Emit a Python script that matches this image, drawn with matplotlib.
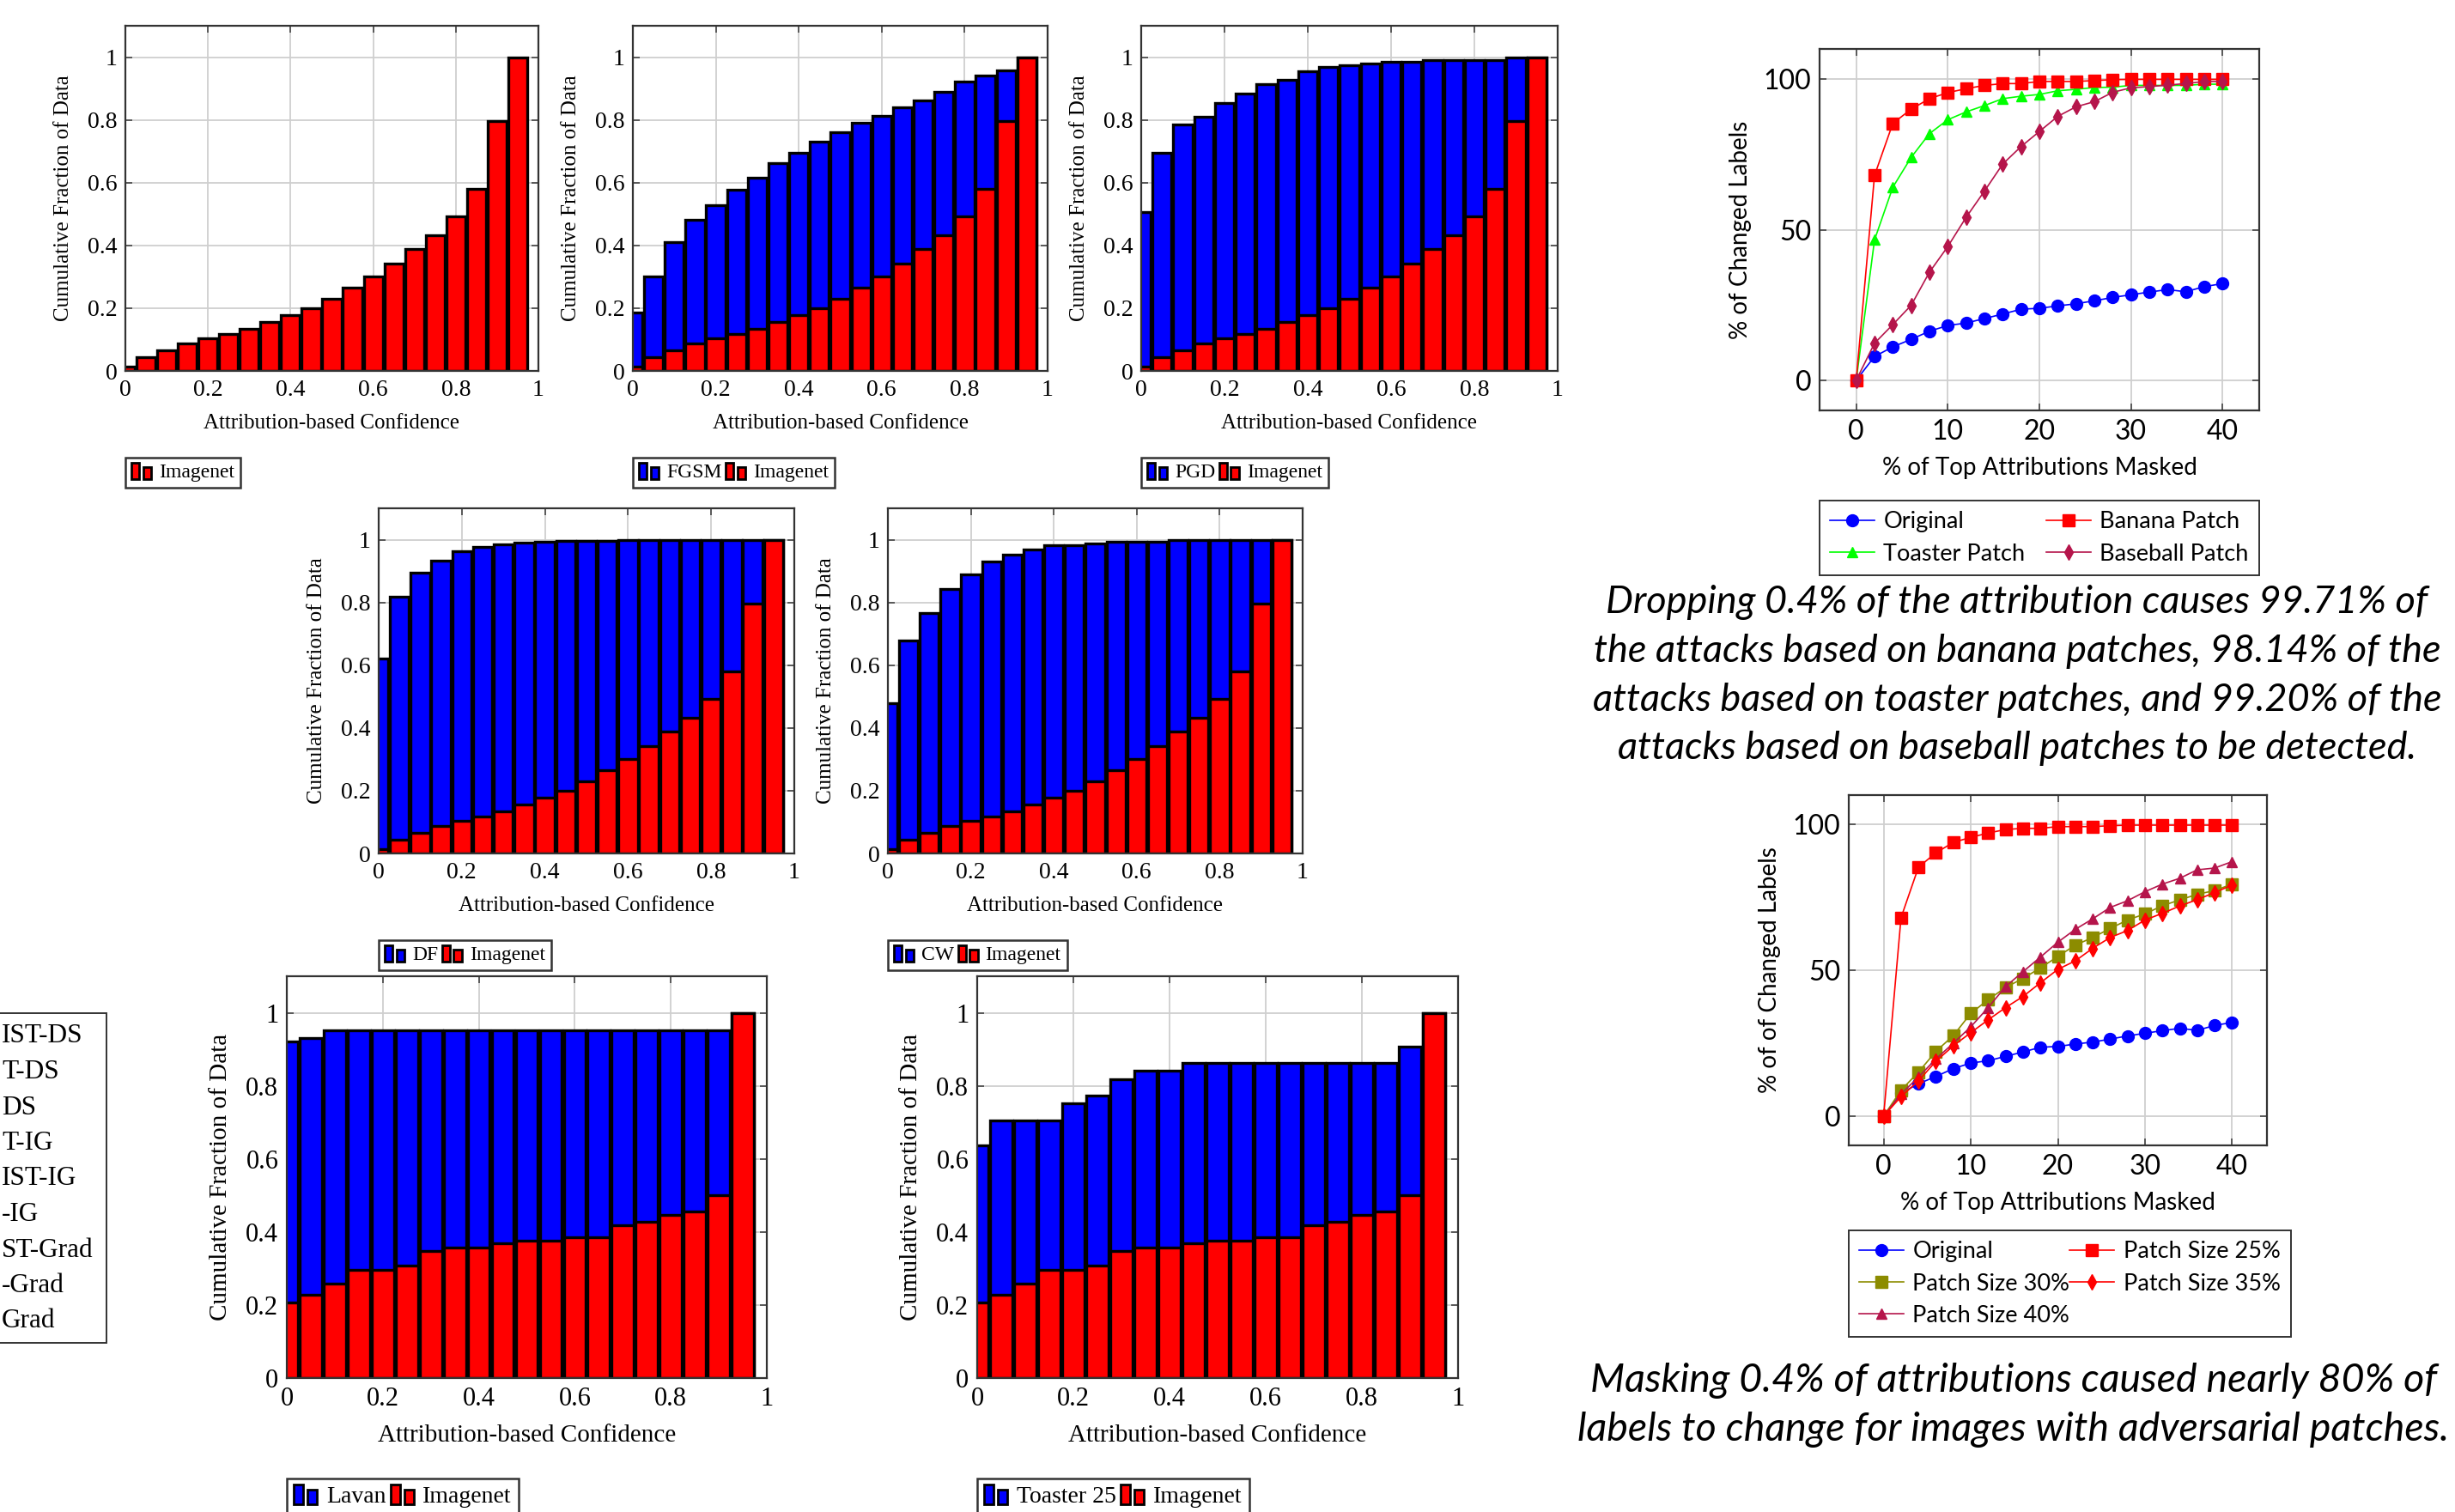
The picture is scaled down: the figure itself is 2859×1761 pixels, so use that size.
import matplotlib
matplotlib.use("Agg")
import matplotlib.pyplot as plt
from matplotlib.patches import Rectangle
from matplotlib.legend_handler import HandlerBase

W, H = 2859, 1761
BLUE = "#0000FF"
RED = "#FF0000"
GREEN = "#00FF00"
CRIMSON = "#B5154B"
OLIVE = "#8C8C00"
SERIF = ["Liberation Serif", "DejaVu Serif"]
SANS = ["Lato", "DejaVu Sans"]

# ---- cumulative fraction histograms (bar at each ABC bin) ----
abc_bins = [0.0, 0.05, 0.1, 0.15, 0.2, 0.25, 0.3, 0.35, 0.4, 0.45,
            0.5, 0.55, 0.6, 0.65, 0.7, 0.75, 0.8, 0.85, 0.9, 0.95]
imagenet = [0.015, 0.045, 0.066, 0.088, 0.104, 0.118, 0.133, 0.155, 0.177, 0.201,
            0.230, 0.266, 0.301, 0.343, 0.389, 0.432, 0.493, 0.581, 0.795, 1.0]
fgsm = [0.185, 0.300, 0.410, 0.482, 0.528, 0.578, 0.617, 0.663, 0.696, 0.730,
        0.761, 0.790, 0.813, 0.841, 0.862, 0.890, 0.921, 0.942, 0.958, 1.0]
pgd = [0.506, 0.695, 0.785, 0.809, 0.853, 0.884, 0.914, 0.928, 0.955, 0.969,
       0.974, 0.979, 0.984, 0.984, 0.990, 0.990, 0.990, 0.990, 1.0, 1.0]
deepfool = [0.620, 0.818, 0.894, 0.934, 0.963, 0.976, 0.985, 0.990, 0.993, 0.995,
            0.995, 0.996, 0.999, 1.0, 1.0, 1.0, 1.0, 1.0, 1.0, 1.0]
cw = [0.479, 0.679, 0.766, 0.842, 0.888, 0.930, 0.953, 0.968, 0.983, 0.983,
      0.988, 0.993, 0.993, 0.993, 1.0, 1.0, 1.0, 1.0, 1.0, 1.0]
lavan = [0.922, 0.931, 0.951, 0.951, 0.951, 0.951, 0.951, 0.951, 0.951, 0.951,
         0.951, 0.951, 0.951, 0.951, 0.951, 0.951, 0.951, 0.951, 0.951, 1.0]
toaster25 = [0.638, 0.705, 0.705, 0.705, 0.751, 0.773, 0.818, 0.841, 0.841, 0.862,
             0.862, 0.862, 0.862, 0.862, 0.862, 0.862, 0.862, 0.862, 0.908, 1.0]
imagenet_patch = [0.208, 0.227, 0.259, 0.295, 0.295, 0.308, 0.348, 0.358, 0.358, 0.368,
                  0.376, 0.376, 0.385, 0.385, 0.418, 0.428, 0.447, 0.457, 0.501, 1.0]

# ---- % of changed labels vs % of top attributions masked ----
masked = [0, 2, 4, 6, 8, 10, 12, 14, 16, 18, 20, 22, 24, 26, 28, 30, 32, 34, 36, 38, 40]
original = [0, 7.9, 11.1, 13.6, 16.3, 18.2, 19.0, 20.5, 22.0, 23.6, 23.9,
            24.7, 25.4, 26.4, 27.5, 28.4, 29.3, 30.1, 29.4, 31.1, 32.1]
banana = [0, 68.0, 85.3, 90.0, 93.5, 95.5, 96.8, 97.9, 98.5, 98.5, 99.2,
          99.2, 99.2, 99.5, 99.8, 99.9, 99.9, 99.9, 99.9, 99.9, 99.9]
toaster = [0, 46.6, 64.1, 74.0, 81.9, 86.5, 89.1, 91.2, 93.5, 94.3, 94.9,
           96.1, 96.6, 97.2, 97.3, 97.9, 97.9, 97.9, 97.9, 98.3, 98.3]
baseball = [0, 12.3, 18.5, 24.9, 35.9, 44.4, 54.1, 62.8, 71.8, 77.6, 82.6,
            87.6, 90.8, 92.5, 95.6, 97.1, 97.5, 98.0, 98.5, 99.2, 99.2]
patch25 = [0, 68.0, 85.3, 90.2, 93.8, 95.5, 97.0, 98.2, 98.6, 98.6, 99.2,
           99.2, 99.2, 99.5, 99.7, 99.7, 99.7, 99.7, 99.7, 99.7, 99.7]
patch30 = [0, 8.9, 15.1, 22.2, 27.6, 35.2, 39.9, 44.1, 47.2, 50.8, 54.7,
           58.6, 61.2, 64.3, 67.2, 69.3, 72.1, 74.1, 76.0, 77.3, 79.5]
patch35 = [0, 6.7, 12.1, 18.8, 24.1, 28.6, 33.0, 37.2, 41.0, 45.7, 50.3,
           53.2, 57.5, 61.2, 63.6, 67.2, 69.5, 72.0, 74.2, 76.6, 79.2]
patch40 = [0, 7.6, 13.4, 19.6, 25.0, 30.6, 37.2, 44.4, 49.5, 54.5, 59.6,
           64.0, 67.6, 71.5, 73.8, 76.9, 79.5, 81.5, 84.4, 85.0, 87.2]

caption_top = [
    "Dropping 0.4% of the attribution causes 99.71% of",
    "the attacks based on banana patches, 98.14% of the",
    "attacks based on toaster patches, and 99.20% of the",
    "attacks based on baseball patches to be detected.",
]
caption_bottom = [
    "Masking 0.4% of attributions caused nearly 80% of",
    "labels to change for images with adversarial patches.",
]
# cut-off legend at the left border of the slide
left_legend = ["IST-DS", "T-DS", "DS", "T-IG", "IST-IG", "-IG", "ST-Grad", "-Grad", "Grad"]


fig = plt.figure(figsize=(W / 100, H / 100), dpi=100)
fig.patch.set_facecolor("white")


def px_axes(left, right, top, bottom):
    return fig.add_axes([left / W, 1 - bottom / H, (right - left) / W, (bottom - top) / H])


class BarPairHandler(HandlerBase):
    # pgfplots-like ybar legend image: two little bars
    def create_artists(self, legend, orig_handle, xdescent, ydescent, width, height, fontsize, trans):
        fc = orig_handle.get_facecolor()
        w = width * 0.36
        r1 = Rectangle((-xdescent, -ydescent - 0.1 * height), w, height * 1.15,
                       facecolor=fc, edgecolor="black", linewidth=2, transform=trans)
        r2 = Rectangle((-xdescent + w * 1.45, -ydescent - 0.1 * height), w, height * 0.85,
                       facecolor=fc, edgecolor="black", linewidth=2, transform=trans)
        return [r1, r2]


def style_frame(ax, font, tick_fs):
    ax.tick_params(direction="in", top=True, right=True, length=6, width=1.2,
                   labelsize=tick_fs, color="#444444", pad=7)
    for lab in ax.get_xticklabels() + ax.get_yticklabels():
        lab.set_family(font)
    for sp in ax.spines.values():
        sp.set_linewidth(1.6)
        sp.set_color("#333333")
    ax.grid(True, color="#cfcfcf", linewidth=1.3)
    ax.set_axisbelow(True)


def draw_cdf(rect, attack, attack_label, base, tick_fs, label_fs, legend_y):
    ax = px_axes(*rect)
    handles, labels = [], []
    if attack is not None:
        handles.append(ax.bar(abc_bins, attack, width=0.046, color=BLUE, edgecolor="black",
                              linewidth=2.4)[0])
        labels.append(attack_label)
    handles.append(ax.bar(abc_bins, base, width=0.046, color=RED, edgecolor="black",
                          linewidth=2.4)[0])
    labels.append("Imagenet")
    ax.set_xlim(0, 1)
    ax.set_ylim(0, 1.1)
    ax.set_xticks([0, 0.2, 0.4, 0.6, 0.8, 1])
    ax.set_xticklabels(["0", "0.2", "0.4", "0.6", "0.8", "1"])
    ax.set_yticks([0, 0.2, 0.4, 0.6, 0.8, 1])
    ax.set_yticklabels(["0", "0.2", "0.4", "0.6", "0.8", "1"])
    style_frame(ax, SERIF, tick_fs)
    ax.set_xlabel("Attribution-based Confidence", family=SERIF, fontsize=label_fs, labelpad=11)
    ax.set_ylabel("Cumulative Fraction of Data", family=SERIF, fontsize=label_fs, labelpad=12)
    leg = ax.legend(handles, labels, handler_map={h: BarPairHandler() for h in handles},
                    loc="upper left", bbox_to_anchor=(0, legend_y), borderaxespad=0,
                    ncol=2, fancybox=False, edgecolor="#333333", framealpha=1,
                    prop={"family": SERIF, "size": label_fs - 1},
                    handlelength=1.1, handletextpad=0.25, columnspacing=0.2,
                    borderpad=0.3)
    leg.get_frame().set_linewidth(1.8)
    return ax


# top row
draw_cdf((146, 627, 30, 432), None, None, imagenet, 20, 18, -0.25)
draw_cdf((737, 1220, 30, 432), fgsm, "FGSM", imagenet, 20, 18, -0.25)
draw_cdf((1329, 1814, 30, 432), pgd, "PGD", imagenet, 20, 18, -0.25)
# middle row
draw_cdf((441, 925, 592, 994), deepfool, "DF", imagenet, 20, 18, -0.25)
draw_cdf((1034, 1517, 592, 994), cw, "CW", imagenet, 20, 18, -0.25)
# bottom row (patch attacks)
draw_cdf((334, 893, 1137, 1605), lavan, "Lavan", imagenet_patch, 22, 21, -0.25)
draw_cdf((1138, 1698, 1137, 1605), toaster25, "Toaster 25", imagenet_patch, 22, 21, -0.25)


def draw_masking(rect, series, ylabel, legend_bbox):
    ax = px_axes(*rect)
    handles = []
    for values, color, marker, ms, label in series:
        h, = ax.plot(masked, values, color=color, marker=marker, markersize=ms,
                     linewidth=1.2, label=label)
        handles.append(h)
    ax.set_xlim(-4, 44)
    ax.set_ylim(-10, 110)
    ax.set_xticks([0, 10, 20, 30, 40])
    ax.set_yticks([0, 50, 100])
    style_frame(ax, SANS, 23)
    ax.set_xlabel("% of Top Attributions Masked", family=SANS, fontsize=20, labelpad=10)
    ax.set_ylabel(ylabel, family=SANS, fontsize=20, labelpad=10)
    leg = ax.legend(handles=handles, loc="upper left", bbox_to_anchor=legend_bbox,
                    mode="expand", borderaxespad=0, ncol=2, fancybox=False,
                    edgecolor="#333333", framealpha=1, prop={"family": SANS, "size": 19.5},
                    handlelength=1.9, handletextpad=0.4, columnspacing=0.2,
                    labelspacing=0.45, borderpad=0.45)
    leg.get_frame().set_linewidth(1.4)
    return ax


draw_masking((2119, 2631, 57, 478),
             [(original, BLUE, "o", 10, "Original"),
              (toaster, GREEN, "^", 9, "Toaster Patch"),
              (banana, RED, "s", 10, "Banana Patch"),
              (baseball, CRIMSON, "d", 9, "Baseball Patch")],
             "% of Changed Labels", (0, -0.25, 1.0, 0))

draw_masking((2153, 2640, 926, 1334),
             [(original, BLUE, "o", 10, "Original"),
              (patch30, OLIVE, "s", 10, "Patch Size 30%"),
              (patch40, CRIMSON, "^", 9, "Patch Size 40%"),
              (patch25, RED, "s", 10, "Patch Size 25%"),
              (patch35, RED, "d", 9, "Patch Size 35%")],
             "% of of Changed Labels", (0, -0.243, 1.057, 0))

# captions
for i, line in enumerate(caption_top):
    fig.text(2349 / W, 1 - (702 + 56.5 * i) / H, line, ha="center", va="center",
             family=SANS, style="italic", fontsize=32.5)
for i, line in enumerate(caption_bottom):
    fig.text(2345 / W, 1 - (1608 + 57 * i) / H, line, ha="center", va="center",
             family=SANS, style="italic", fontsize=33.5)

# partial legend box at the left edge
fig.patches.append(Rectangle((-10 / W, 1 - 1564 / H), 134 / W, 384 / H, transform=fig.transFigure,
                             fill=False, edgecolor="#333333", linewidth=1.4))
for i, entry in enumerate(left_legend):
    fig.text(2 / W, 1 - (1207 + 41.5 * i) / H, entry, ha="left", va="center",
             family=SERIF, fontsize=22.5)

fig.savefig("out.png", dpi=100, facecolor="white")
